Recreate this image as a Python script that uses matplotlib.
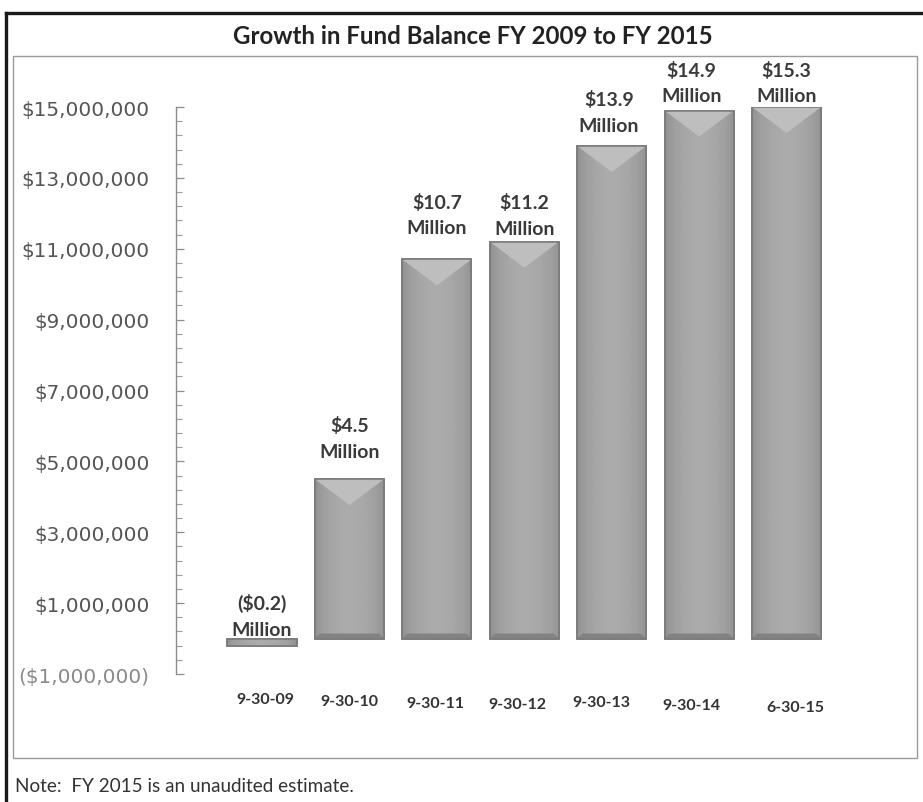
import matplotlib
matplotlib.use("Agg")
import matplotlib.pyplot as plt
import numpy as np
from matplotlib.lines import Line2D
from matplotlib.patches import Rectangle, Polygon
from matplotlib.ticker import FixedLocator, FuncFormatter

# Fund balance at each fiscal year-end (dollars)
dates = ["9-30-09", "9-30-10", "9-30-11", "9-30-12", "9-30-13", "9-30-14", "6-30-15"]
balances = [-0.2e6, 4.5e6, 10.7e6, 11.2e6, 13.9e6, 14.9e6, 15.3e6]

# value axis range and tick spacing
y_min, y_max = -1e6, 15e6
major_step, minor_step = 2e6, 0.4e6

title = "Growth in Fund Balance FY 2009 to FY 2015"
note = "Note:  FY 2015 is an unaudited estimate."

# hand-placed nudges (pixels) for the value labels and the date labels
label_dx = [0, 0, 0, 0, -3, -8, 0]
label_lift = [23, 41, 45, 27, 34, 28, 14]
date_dx = [3, 0, -2, -7, -10, -8, 9]
date_dy = [3, 1, -1, -2, 0, -3, -5]

W, H = 923, 803
fig = plt.figure(figsize=(W / 100, H / 100), dpi=100)
fig.patch.set_facecolor("white")

BOLD = ["Lato", "DejaVu Sans"]

# plot area in pixel terms -> figure fraction
ax_l, ax_r, ax_t, ax_b = 176, 874, 108, 675
ax = fig.add_axes([ax_l / W, 1 - ax_b / H, (ax_r - ax_l) / W, (ax_b - ax_t) / H])
ax.set_facecolor("none")

x = np.arange(len(dates))
bar_w = 0.79
bars = ax.bar(x, balances, width=bar_w, color="#9c9c9c", edgecolor="#767676",
              linewidth=1.1, zorder=2)

ax.set_xlim(-0.984, 7.0)
ax.set_ylim(y_min, y_max)

# y axis: left spine only, inward ticks
for s in ["top", "right", "bottom"]:
    ax.spines[s].set_visible(False)
ax.spines["left"].set_color("#8c8c8c")
ax.spines["left"].set_linewidth(1.0)
ax.yaxis.set_major_locator(FixedLocator(np.arange(y_min, y_max + 1, major_step)))
ax.yaxis.set_minor_locator(FixedLocator(np.arange(y_min, y_max + 1, minor_step)))


def money(v, pos=None):
    s = "${:,.0f}".format(abs(v))
    return "({})".format(s) if v < 0 else s


ax.yaxis.set_major_formatter(FuncFormatter(money))
ax.tick_params(axis="y", which="major", direction="in", length=6, width=0.9,
               color="#8c8c8c", pad=19, labelsize=14.4, labelcolor="#555555")
ax.tick_params(axis="y", which="minor", direction="in", length=4, width=0.8,
               color="#9a9a9a")
for lab in ax.get_yticklabels():
    lab.set_fontfamily("DejaVu Sans")
ax.set_xticks([])

fig.canvas.draw()
for lab in ax.get_yticklabels():
    if lab.get_text().startswith("("):
        lab.set_color("#8a8a8a")

# bevelled shading for each bar, derived from the bar geometry
px_to_data = (y_max - y_min) / (ax_b - ax_t)
xpx_to_data = (7.0 + 0.984) / (ax_r - ax_l)
grad_t = np.linspace(0, 1, 64)
grad = 0.56 + 0.11 * np.sin(np.pi * grad_t) ** 0.6
grad = np.tile(grad, (2, 1))
for rect in bars.patches:
    x0, w = rect.get_x(), rect.get_width()
    y0, h = rect.get_y(), rect.get_height()
    lo, hi = y0, min(y0 + h, y_max)
    im = ax.imshow(grad, extent=(x0, x0 + w, lo, hi), aspect="auto",
                   cmap="gray", vmin=0, vmax=1, zorder=2.1,
                   interpolation="bilinear")
    im.set_clip_path(rect)
    if (hi - lo) / px_to_data > 40:
        depth = 26 * px_to_data
        tri = Polygon([(x0, hi), (x0 + w, hi), (x0 + w / 2, hi - depth)],
                      closed=True, facecolor="#bebebe", edgecolor="none",
                      zorder=2.2)
        ax.add_patch(tri)
        band = 5 * px_to_data
        inset = 5 * xpx_to_data
        base = Polygon([(x0, lo), (x0 + w, lo), (x0 + w - inset, lo + band),
                        (x0 + inset, lo + band)], closed=True,
                       facecolor="#828282", edgecolor="none", zorder=2.2)
        ax.add_patch(base)
    outline = Rectangle((x0, lo), w, hi - lo, facecolor="none",
                        edgecolor="#777777", linewidth=1.1, zorder=2.3)
    ax.add_patch(outline)

# value labels above each bar
for i, v in enumerate(balances):
    m = v / 1e6
    head = "(${:.1f})".format(abs(m)) if m < 0 else "${:.1f}".format(m)
    ax.annotate(head + "\nMillion", xy=(x[i], max(v, 0)),
                xytext=(label_dx[i], label_lift[i]), textcoords="offset pixels",
                ha="center", va="center", fontsize=14, fontweight="bold",
                family=BOLD, color="#3a3a3a", linespacing=1.62,
                annotation_clip=False, zorder=4)

# category labels under the plot
for i, d in enumerate(dates):
    ax.annotate(d, xy=(x[i], 0), xycoords=("data", "axes fraction"),
                xytext=(date_dx[i], -28 + date_dy[i]), textcoords="offset pixels",
                ha="center", va="center", fontsize=11.5, fontweight="bold",
                family=BOLD, color="#333333", annotation_clip=False)

# title and note
fig.text(473 / W, 1 - 36 / H, title, ha="center", va="center", fontsize=17.3,
         fontweight="bold", family=BOLD, color="#222222")
fig.text(15 / W, 1 - 787 / H, note, ha="left", va="center", fontsize=13.6,
         family=["Lato", "DejaVu Sans"], color="#333333")

# chart frame and outer border
fig.add_artist(Rectangle((13 / W, 1 - 759 / H), (917 - 13) / W, (759 - 57) / H,
                         transform=fig.transFigure, facecolor="none",
                         edgecolor="#9a9a9a", linewidth=1.0))
fig.add_artist(Line2D([6 / W, 6 / W], [0, 1 - 14 / H], transform=fig.transFigure,
                      color="#1a1a1a", linewidth=2.4))
fig.add_artist(Line2D([6 / W, 1], [1 - 14 / H, 1 - 14 / H], transform=fig.transFigure,
                      color="#1a1a1a", linewidth=2.4))

fig.savefig("out.png", dpi=100)
